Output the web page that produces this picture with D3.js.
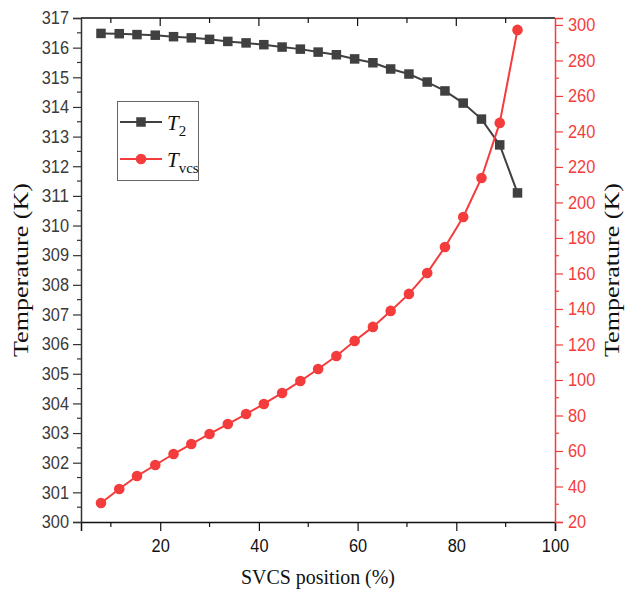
<!DOCTYPE html>
<html>
<head>
<meta charset="utf-8">
<script src="https://cdn.jsdelivr.net/npm/d3@7"></script>
<style>
  html, body { margin: 0; padding: 0; background: #fff; }
  svg { display: block; }
  .tick-label { font-family: "Liberation Sans", Arial, sans-serif; font-size: 18px; }
  .title { font-family: "Liberation Serif", "Times New Roman", serif; font-size: 21px; fill: #111; }
</style>
</head>
<body>
<svg id="chart" width="629" height="603"></svg>
<script>
// SVCS position along the shield (%)
const positions = [8.0, 11.7, 15.3, 19.0, 22.7, 26.3, 30.0, 33.7, 37.4, 41.0, 44.7, 48.4,
                   52.0, 55.7, 59.4, 63.1, 66.7, 70.4, 74.1, 77.7, 81.4, 85.1, 88.8, 92.4];
// T2 temperature (K), left axis
const t2 = [316.48, 316.47, 316.44, 316.42, 316.37, 316.33, 316.28, 316.21, 316.16, 316.10, 316.02, 315.95,
            315.85, 315.76, 315.62, 315.49, 315.28, 315.11, 314.84, 314.54, 314.13, 313.59, 312.72, 311.10];
// Tvcs temperature (K), right axis
const tvcs = [30.7, 38.6, 45.9, 52.1, 58.3, 63.9, 69.6, 75.2, 80.8, 86.5, 92.7, 99.4,
              106.2, 113.5, 122.0, 129.9, 138.9, 148.5, 160.3, 174.9, 191.8, 213.8, 244.8, 297.2];

const xTicks = [20, 40, 60, 80, 100];
const yLeftTicks = d3.range(300, 318, 1);
const yRightTicks = d3.range(20, 301, 20);

const dark = "#404040";
const red = "#f43c3c";

const svg = d3.select("#chart");
const m = { left: 81, right: 555, top: 18, bottom: 522 };

const x = d3.scaleLinear().domain([3.95, 100]).range([m.left, m.right]);
const yL = d3.scaleLinear().domain([300, 317]).range([m.bottom, m.top]);
const yR = d3.scaleLinear().domain([20, 303.9]).range([m.bottom, m.top]);

// narrow the digits a little, like a condensed sans face
function narrow(sel) {
  sel.attr("class", "tick-label")
    .attr("textLength", function () { return this.textContent.length * 9.1; })
    .attr("lengthAdjust", "spacingAndGlyphs");
}

// top frame line with inward ticks
svg.append("line").attr("x1", m.left).attr("x2", m.right).attr("y1", m.top).attr("y2", m.top)
  .attr("stroke", "#111").attr("stroke-width", 1.5);
d3.range(10, 100, 10).forEach(v => {
  const major = v % 20 === 0;
  svg.append("line").attr("x1", x(v)).attr("x2", x(v)).attr("y1", m.top).attr("y2", m.top + (major ? 8 : 5))
    .attr("stroke", "#111").attr("stroke-width", 1.2);
});

// bottom axis
const gx = svg.append("g").attr("transform", `translate(0,${m.bottom})`)
  .call(d3.axisBottom(x).tickValues(xTicks).tickSize(9).tickPadding(8));
gx.select(".domain").attr("stroke", "#111").attr("stroke-width", 1.5);
gx.selectAll(".tick line").attr("stroke", "#111").attr("stroke-width", 1.2);
gx.selectAll(".tick text").call(narrow).attr("fill", "#111");
d3.range(10, 100, 20).forEach(v => {
  gx.append("line").attr("x1", x(v)).attr("x2", x(v)).attr("y1", 0).attr("y2", 5)
    .attr("stroke", "#111").attr("stroke-width", 1.2);
});

// left axis
const gl = svg.append("g").attr("transform", `translate(${m.left},0)`)
  .call(d3.axisLeft(yL).tickValues(yLeftTicks).tickFormat(d3.format("d")).tickSize(8).tickPadding(4));
gl.select(".domain").attr("stroke", "#333").attr("stroke-width", 1.5);
gl.selectAll(".tick line").attr("stroke", "#333").attr("stroke-width", 1.2);
gl.selectAll(".tick text").call(narrow).attr("fill", "#3a3a3a");
d3.range(300.5, 317, 1).forEach(v => {
  gl.append("line").attr("x1", 0).attr("x2", -4).attr("y1", yL(v)).attr("y2", yL(v))
    .attr("stroke", "#333").attr("stroke-width", 1.2);
});

// right axis (red)
const gr = svg.append("g").attr("transform", `translate(${m.right},0)`)
  .call(d3.axisRight(yR).tickValues(yRightTicks).tickSize(8).tickPadding(5));
gr.select(".domain").attr("stroke", red).attr("stroke-width", 1.5);
gr.selectAll(".tick line").attr("stroke", red).attr("stroke-width", 1.2);
gr.selectAll(".tick text").call(narrow).attr("fill", red);
d3.range(30, 301, 20).forEach(v => {
  gr.append("line").attr("x1", 0).attr("x2", 4).attr("y1", yR(v)).attr("y2", yR(v))
    .attr("stroke", red).attr("stroke-width", 1.2);
});

// axis titles
const midY = (m.top + m.bottom) / 2;
svg.append("text").attr("class", "title").attr("text-anchor", "middle")
  .attr("transform", `translate(28,${midY}) rotate(-90)`)
  .attr("textLength", 174).attr("lengthAdjust", "spacingAndGlyphs").text("Temperature (K)");
svg.append("text").attr("class", "title").attr("text-anchor", "middle")
  .attr("transform", `translate(619,${midY}) rotate(-90)`)
  .attr("textLength", 174).attr("lengthAdjust", "spacingAndGlyphs").text("Temperature (K)");
svg.append("text").attr("class", "title").attr("text-anchor", "middle").attr("font-size", 22)
  .attr("x", (m.left + m.right) / 2).attr("y", 584)
  .attr("textLength", 154).attr("lengthAdjust", "spacingAndGlyphs").text("SVCS position (%)");

// T2 series
const lineL = d3.line().x((d, i) => x(positions[i])).y(d => yL(d));
svg.append("path").datum(t2).attr("d", lineL).attr("fill", "none").attr("stroke", dark).attr("stroke-width", 2);
svg.selectAll(".sq").data(t2).enter().append("rect")
  .attr("x", (d, i) => x(positions[i]) - 4.75).attr("y", d => yL(d) - 4.75)
  .attr("width", 9.5).attr("height", 9.5).attr("fill", dark);

// Tvcs series
const lineR = d3.line().x((d, i) => x(positions[i])).y(d => yR(d));
svg.append("path").datum(tvcs).attr("d", lineR).attr("fill", "none").attr("stroke", red).attr("stroke-width", 2);
svg.selectAll(".dot").data(tvcs).enter().append("circle")
  .attr("cx", (d, i) => x(positions[i])).attr("cy", d => yR(d)).attr("r", 5.3).attr("fill", red);

// legend
const lg = svg.append("g");
lg.append("rect").attr("x", 117.5).attr("y", 101.5).attr("width", 81).attr("height", 79)
  .attr("fill", "#fff").attr("stroke", "#666").attr("stroke-width", 1);
lg.append("line").attr("x1", 120).attr("x2", 162).attr("y1", 122).attr("y2", 122).attr("stroke", dark).attr("stroke-width", 2);
lg.append("rect").attr("x", 136.25).attr("y", 117.25).attr("width", 9.5).attr("height", 9.5).attr("fill", dark);
lg.append("line").attr("x1", 120).attr("x2", 162).attr("y1", 159).attr("y2", 159).attr("stroke", red).attr("stroke-width", 2);
lg.append("circle").attr("cx", 141).attr("cy", 159).attr("r", 5.3).attr("fill", red);

const t1 = lg.append("text").attr("class", "title").attr("x", 167).attr("y", 130).attr("font-size", 23);
t1.append("tspan").attr("font-style", "italic").text("T");
t1.append("tspan").attr("dy", 6).attr("font-size", 15).text("2");
const t2l = lg.append("text").attr("class", "title").attr("x", 167).attr("y", 167).attr("font-size", 23);
t2l.append("tspan").attr("font-style", "italic").text("T");
t2l.append("tspan").attr("dy", 6).attr("font-size", 15).text("vcs");
</script>
</body>
</html>
